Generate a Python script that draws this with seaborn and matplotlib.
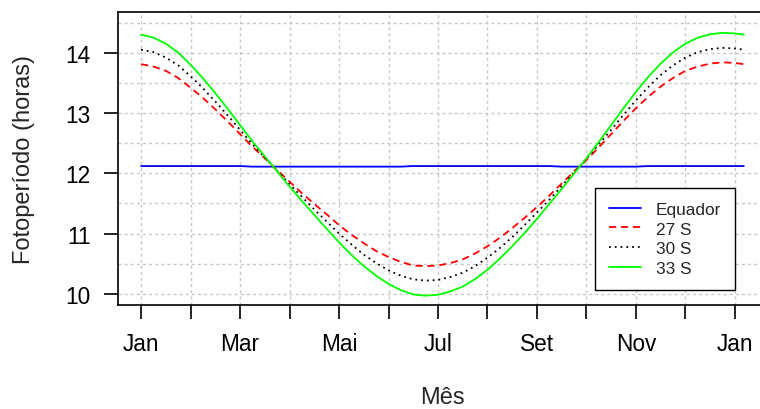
import numpy as np
import pandas as pd
import seaborn as sns
import matplotlib.pyplot as plt
from matplotlib.ticker import MultipleLocator

# ------------------------------
# Dados (fotoperiodo em horas, x em meses desde Jan)
# ------------------------------
meses = [0, 0.25, 0.5, 0.75, 1, 1.25, 1.5, 1.75, 2, 2.25, 2.5, 2.75,
         3, 3.25, 3.5, 3.75, 4, 4.25, 4.5, 4.75, 5, 5.25, 5.5, 5.75,
         6, 6.25, 6.5, 6.75, 7, 7.25, 7.5, 7.75, 8, 8.25, 8.5, 8.75,
         9, 9.25, 9.5, 9.75, 10, 10.25, 10.5, 10.75, 11, 11.25, 11.5, 11.75,
         12, 12.18]

equador = [12.12, 12.12, 12.12, 12.12, 12.12, 12.12, 12.12, 12.12, 12.12, 12.11,
           12.11, 12.11, 12.11, 12.11, 12.11, 12.11, 12.11, 12.11, 12.11, 12.11,
           12.11, 12.11, 12.12, 12.12, 12.12, 12.12, 12.12, 12.12, 12.12, 12.12,
           12.12, 12.12, 12.12, 12.12, 12.11, 12.11, 12.11, 12.11, 12.11, 12.11,
           12.11, 12.12, 12.12, 12.12, 12.12, 12.12, 12.12, 12.12, 12.12, 12.12]

lat27 = [13.81, 13.77, 13.70, 13.58, 13.42, 13.25, 13.06, 12.86, 12.65, 12.44,
         12.25, 12.05, 11.86, 11.67, 11.49, 11.32, 11.14, 10.98, 10.84, 10.71,
         10.61, 10.53, 10.47, 10.46, 10.47, 10.51, 10.57, 10.67, 10.79, 10.93,
         11.09, 11.26, 11.44, 11.63, 11.83, 12.03, 12.22, 12.43, 12.65, 12.87,
         13.08, 13.27, 13.44, 13.58, 13.70, 13.77, 13.82, 13.84, 13.83, 13.81]

lat30 = [14.05, 14.01, 13.92, 13.79, 13.61, 13.41, 13.19, 12.96, 12.72, 12.48,
         12.26, 12.04, 11.82, 11.61, 11.40, 11.20, 11.00, 10.82, 10.65, 10.51,
         10.39, 10.30, 10.24, 10.22, 10.23, 10.28, 10.35, 10.46, 10.60, 10.76,
         10.94, 11.14, 11.35, 11.56, 11.79, 12.01, 12.24, 12.48, 12.72, 12.97,
         13.21, 13.43, 13.63, 13.79, 13.92, 14.01, 14.06, 14.08, 14.07, 14.05]

lat33 = [14.30, 14.25, 14.15, 14.00, 13.80, 13.575, 13.33, 13.07, 12.80, 12.53,
         12.28, 12.03, 11.78, 11.54, 11.31, 11.08, 10.855, 10.645, 10.46, 10.30,
         10.165, 10.06, 9.99, 9.97, 9.985, 10.04, 10.12, 10.245, 10.40, 10.585,
         10.79, 11.01, 11.245, 11.49, 11.74, 11.995, 12.25, 12.52, 12.80, 13.08,
         13.35, 13.60, 13.82, 14.005, 14.15, 14.25, 14.305, 14.33, 14.32, 14.30]

series = ['Equador', '27 S', '30 S', '33 S']
tick_pos = [0, 1, 2, 3, 4, 5, 6, 7, 8, 9, 10, 11, 12]
tick_labels = ['Jan', '', 'Mar', '', 'Mai', '', 'Jul', '', 'Set', '', 'Nov', '', 'Jan']

df = pd.concat([
    pd.DataFrame({'mes': meses, 'horas': vals, 'serie': nome})
    for nome, vals in zip(series, [equador, lat27, lat30, lat33])
], ignore_index=True)

# ------------------------------
# Estilo
# ------------------------------
sns.set_theme(style='ticks')
plt.rcParams['font.family'] = ['Liberation Sans', 'DejaVu Sans']

fig = plt.figure(figsize=(7.6, 4.1), dpi=100)
ax = fig.add_axes([0.1557, 0.2544, 0.8536, 0.7146])

cores = {'Equador': '#0000ff', '27 S': '#ff0000', '30 S': '#000000', '33 S': '#00ff00'}
tracos = {'Equador': '', '27 S': (4, 2.6), '30 S': (1, 2.2), '33 S': ''}

sns.lineplot(data=df, x='mes', y='horas', hue='serie', style='serie',
             hue_order=series, style_order=series, palette=cores,
             dashes=tracos, estimator=None, linewidth=1.3, ax=ax)

ax.set_xlim(-0.46, 12.65)
ax.set_ylim(9.82, 14.68)
ax.set_xticks(tick_pos)
ax.set_xticklabels(tick_labels)
ax.set_yticks([10, 11, 12, 13, 14])
ax.yaxis.set_minor_locator(MultipleLocator(0.5))

ax.tick_params(axis='both', which='major', labelsize=16.3, length=10,
               width=1.2, color='black', labelcolor='black')
ax.tick_params(axis='x', pad=10)
ax.tick_params(axis='y', pad=10)
ax.tick_params(axis='y', which='minor', length=0)

ax.set_axisbelow(True)
ax.grid(axis='x', which='major', color='#c8c8c8', linestyle=(0, (2.2, 2.2)), linewidth=1)
ax.grid(axis='y', which='both', color='#c8c8c8', linestyle=(0, (2.2, 2.2)), linewidth=1)

for s in ax.spines.values():
    s.set_color('black')
    s.set_linewidth(1.2)

ax.set_xlabel('Mês', fontsize=17, labelpad=22)
ax.set_ylabel('Fotoperíodo (horas)', fontsize=17, labelpad=22)

handles, labels = ax.get_legend_handles_labels()
leg = ax.legend(handles, labels, loc='lower right', bbox_to_anchor=(0.9507, 0.0512),
                borderaxespad=0, fontsize=12.4, frameon=True, fancybox=False,
                edgecolor='black', framealpha=1, handlelength=1.9,
                handletextpad=0.85, borderpad=0.8, labelspacing=0.27)
leg.get_frame().set_linewidth(1.0)

fig.savefig('out.png', dpi=100)
